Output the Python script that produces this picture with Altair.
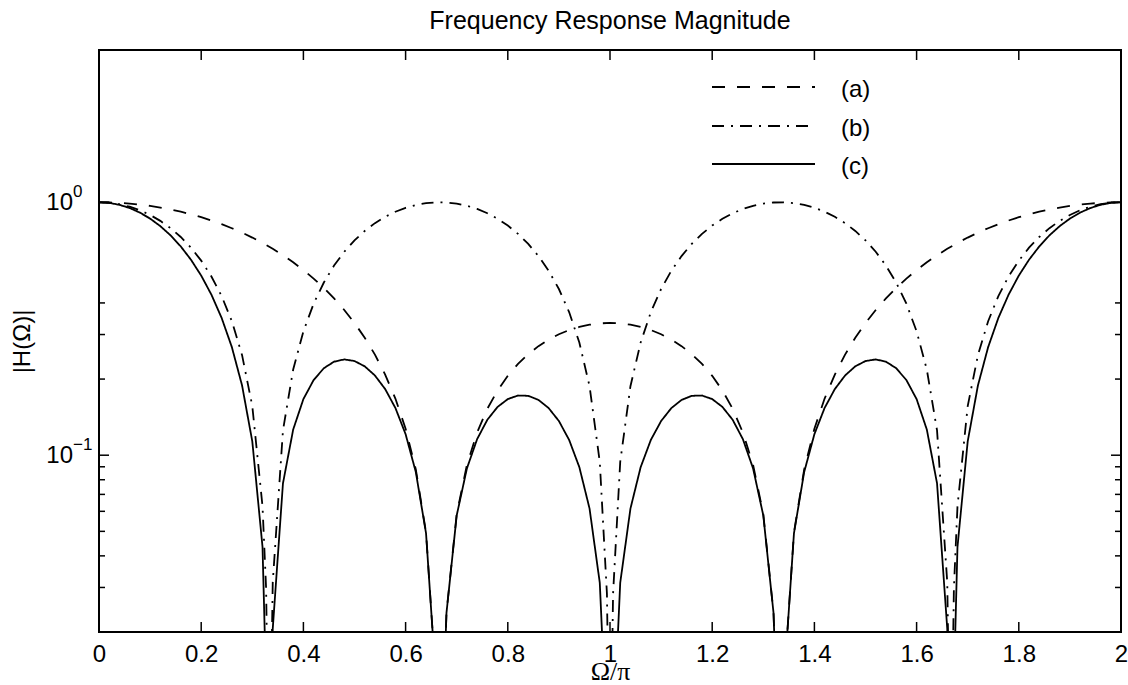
import altair as alt
import pandas as pd

# ---------------- data ----------------
t_grid = [0.00, 0.02, 0.04, 0.06, 0.08, 0.10, 0.12, 0.14, 0.16, 0.18,
          0.20, 0.22, 0.24, 0.26, 0.28, 0.30, 0.32, 0.34, 0.36, 0.38,
          0.40, 0.42, 0.44, 0.46, 0.48, 0.50, 0.52, 0.54, 0.56, 0.58,
          0.60, 0.62, 0.64, 0.66, 0.68, 0.70, 0.72, 0.74, 0.76, 0.78,
          0.80, 0.82, 0.84, 0.86, 0.88, 0.90, 0.92, 0.94, 0.96, 0.98,
          1.00,
          1.02, 1.04, 1.06, 1.08, 1.10, 1.12, 1.14, 1.16, 1.18, 1.20,
          1.22, 1.24, 1.26, 1.28, 1.30, 1.32, 1.34, 1.36, 1.38, 1.40,
          1.42, 1.44, 1.46, 1.48, 1.50, 1.52, 1.54, 1.56, 1.58, 1.60,
          1.62, 1.64, 1.66, 1.68, 1.70, 1.72, 1.74, 1.76, 1.78, 1.80,
          1.82, 1.84, 1.86, 1.88, 1.90, 1.92, 1.94, 1.96, 1.98, 2.00]

a_vals = [1.0000, 0.9987, 0.9947, 0.9882, 0.9791, 0.9674, 0.9532, 0.9366, 0.9175, 0.8962,
          0.8727, 0.8470, 0.8193, 0.7897, 0.7583, 0.7252, 0.6906, 0.6545, 0.6172, 0.5788,
          0.5394, 0.4991, 0.4583, 0.4169, 0.3752, 0.3333, 0.2915, 0.2498, 0.2084, 0.1675,
          0.1273, 0.0879, 0.0495, 0.0122, 0.0239, 0.0585, 0.0916, 0.1230, 0.1527, 0.1803,
          0.2060, 0.2296, 0.2509, 0.2699, 0.2865, 0.3007, 0.3124, 0.3215, 0.3281, 0.3320,
          0.3333,
          0.3320, 0.3281, 0.3215, 0.3124, 0.3007, 0.2865, 0.2699, 0.2509, 0.2296, 0.2060,
          0.1803, 0.1527, 0.1230, 0.0916, 0.0585, 0.0239, 0.0122, 0.0495, 0.0879, 0.1273,
          0.1675, 0.2084, 0.2498, 0.2915, 0.3333, 0.3752, 0.4169, 0.4583, 0.4991, 0.5394,
          0.5788, 0.6172, 0.6545, 0.6906, 0.7252, 0.7583, 0.7897, 0.8193, 0.8470, 0.8727,
          0.8962, 0.9175, 0.9366, 0.9532, 0.9674, 0.9791, 0.9882, 0.9947, 0.9987, 1.0000]

b_vals = [1.0000, 0.9956, 0.9823, 0.9603, 0.9298, 0.8910, 0.8443, 0.7902, 0.7290, 0.6613,
          0.5878, 0.5090, 0.4258, 0.3387, 0.2487, 0.1564, 0.0628, 0.0314, 0.1253, 0.2181,
          0.3090, 0.3972, 0.4818, 0.5621, 0.6374, 0.7071, 0.7705, 0.8271, 0.8763, 0.9178,
          0.9511, 0.9759, 0.9921, 0.9995, 0.9980, 0.9877, 0.9686, 0.9409, 0.9048, 0.8607,
          0.8090, 0.7501, 0.6846, 0.6128, 0.5358, 0.4540, 0.3681, 0.2790, 0.1874, 0.0941,
          0.0040,
          0.0941, 0.1874, 0.2790, 0.3681, 0.4540, 0.5358, 0.6128, 0.6846, 0.7501, 0.8090,
          0.8607, 0.9048, 0.9409, 0.9686, 0.9877, 0.9980, 0.9995, 0.9921, 0.9759, 0.9511,
          0.9178, 0.8763, 0.8271, 0.7705, 0.7071, 0.6374, 0.5621, 0.4818, 0.3972, 0.3090,
          0.2181, 0.1253, 0.0314, 0.0628, 0.1564, 0.2487, 0.3387, 0.4258, 0.5090, 0.5878,
          0.6613, 0.7290, 0.7902, 0.8443, 0.8910, 0.9298, 0.9603, 0.9823, 0.9956, 1.0000]

c_vals = [1.0000, 0.9943, 0.9771, 0.9490, 0.9103, 0.8619, 0.8048, 0.7400, 0.6689, 0.5927,
          0.5130, 0.4312, 0.3489, 0.2675, 0.1886, 0.1134, 0.0434, 0.0206, 0.0774, 0.1263,
          0.1667, 0.1982, 0.2208, 0.2343, 0.2392, 0.2357, 0.2246, 0.2066, 0.1826, 0.1538,
          0.1211, 0.0858, 0.0491, 0.0122, 0.0238, 0.0578, 0.0887, 0.1158, 0.1381, 0.1552,
          0.1667, 0.1722, 0.1717, 0.1654, 0.1535, 0.1365, 0.1150, 0.0897, 0.0615, 0.0313,
          0.0040,
          0.0313, 0.0615, 0.0897, 0.1150, 0.1365, 0.1535, 0.1654, 0.1717, 0.1722, 0.1667,
          0.1552, 0.1381, 0.1158, 0.0887, 0.0578, 0.0238, 0.0122, 0.0491, 0.0858, 0.1211,
          0.1538, 0.1826, 0.2066, 0.2246, 0.2357, 0.2392, 0.2343, 0.2208, 0.1982, 0.1667,
          0.1263, 0.0774, 0.0206, 0.0434, 0.1134, 0.1886, 0.2675, 0.3489, 0.4312, 0.5130,
          0.5927, 0.6689, 0.7400, 0.8048, 0.8619, 0.9103, 0.9490, 0.9771, 0.9943, 1.0000]

# points at the notches (the curves drop below the bottom of the plot there)
a_dip_t = [0.6667, 1.3333]
a_dip_v = [0.004, 0.004]
b_dip_t = [0.327, 0.3333, 0.994, 1.006, 1.6667, 1.673]
b_dip_v = [0.0298, 0.004, 0.0283, 0.0283, 0.004, 0.0298]
c_dip_t = [0.3333, 0.6667, 1.3333, 1.6667]
c_dip_v = [0.004, 0.004, 0.004, 0.004]

series_names = ["(a)", "(b)", "(c)"]
x_ticks = [0.0, 0.2, 0.4, 0.6, 0.8, 1.0, 1.2, 1.4, 1.6, 1.8, 2.0]
y_major = [0.1, 1.0]
y_minor = [0.02, 0.03, 0.04, 0.05, 0.06, 0.07, 0.08, 0.09, 0.2, 0.3, 0.4]
y_lab_vals = [1.0, 0.1]
y_lab_base = ["10", "10"]
y_lab_exp = ["0", "\u22121"]

# ---------------- build table ----------------
rows = []
for name, vals, dt, dv in [("(a)", a_vals, a_dip_t, a_dip_v),
                           ("(b)", b_vals, b_dip_t, b_dip_v),
                           ("(c)", c_vals, c_dip_t, c_dip_v)]:
    for t, v in zip(t_grid, vals):
        rows.append({"series": name, "t": t, "v": v})
    for t, v in zip(dt, dv):
        rows.append({"series": name, "t": t, "v": v})
df = pd.DataFrame(rows).sort_values(["series", "t"]).reset_index(drop=True)

W, H = 1022, 582
SANS = "Liberation Sans"
SERIF = "Liberation Serif"
dashes = {"(a)": [13, 12], "(b)": [12, 7, 2, 7], "(c)": [1, 0]}

xscale = alt.Scale(domain=[0, 2], nice=False, zero=False)
yscale = alt.Scale(type="log", domain=[0.02, 4], nice=False)

xaxis = alt.Axis(values=x_ticks, format="~g", labelFont=SANS, labelFontSize=24,
                 labelColor="black", labelPadding=10, ticks=False, tickSize=0,
                 domain=False, grid=False, labelFlush=False, labelOverlap=False,
                 title="\u03a9/\u03c0", titleFont=SERIF, titleFontSize=26,
                 titleFontWeight="normal", titleColor="black", titleX=511, titleY=47,
                 titleAlign="center", titleBaseline="alphabetic")
yaxis = alt.Axis(labels=False, ticks=False, domain=False, grid=False,
                 title="|H(\u03a9)|", titleFont=SANS, titleFontSize=24,
                 titleFontWeight="normal", titleColor="black", titleX=-77, titleY=291,
                 titleAlign="center", titleBaseline="middle", titleAngle=270)

lines = alt.Chart(df).mark_line(clip=True, color="black", strokeWidth=1.8).encode(
    x=alt.X("t:Q", scale=xscale, axis=xaxis),
    y=alt.Y("v:Q", scale=yscale, axis=yaxis),
    strokeDash=alt.StrokeDash("series:N",
                              scale=alt.Scale(domain=series_names,
                                              range=[dashes[s] for s in series_names]),
                              legend=None),
    detail="series:N",
)

xt = pd.DataFrame({"t": x_ticks})
ymj = pd.DataFrame({"v": y_major})
ymn = pd.DataFrame({"v": y_minor})

tick_style = dict(color="black", strokeWidth=1.5)
bot_ticks = alt.Chart(xt).mark_rule(**tick_style).encode(
    x="t:Q", y=alt.value(H), y2=alt.value(H - 10))
top_ticks = alt.Chart(xt).mark_rule(**tick_style).encode(
    x="t:Q", y=alt.value(0), y2=alt.value(10))
l_major = alt.Chart(ymj).mark_rule(**tick_style).encode(
    y="v:Q", x=alt.value(0), x2=alt.value(10))
r_major = alt.Chart(ymj).mark_rule(**tick_style).encode(
    y="v:Q", x=alt.value(W), x2=alt.value(W - 10))
l_minor = alt.Chart(ymn).mark_rule(**tick_style).encode(
    y="v:Q", x=alt.value(0), x2=alt.value(6))
r_minor = alt.Chart(ymn).mark_rule(**tick_style).encode(
    y="v:Q", x=alt.value(W), x2=alt.value(W - 6))

ylab = pd.DataFrame({"v": y_lab_vals, "base": y_lab_base, "exp": y_lab_exp})
ylab_base = alt.Chart(ylab).mark_text(align="right", baseline="middle", font=SANS,
                                      fontSize=24, color="black", dy=1).encode(
    y="v:Q", x=alt.value(-26), text="base:N")
ylab_exp = alt.Chart(ylab).mark_text(align="left", baseline="middle", font=SANS,
                                     fontSize=17, color="black", dy=-10).encode(
    y="v:Q", x=alt.value(-26), text="exp:N")

legend_layers = []
legend_rows_y = [37, 76, 114]
for name, ly in zip(series_names, legend_rows_y):
    ldf = pd.DataFrame({"label": [name]})
    legend_layers.append(
        alt.Chart(ldf).mark_rule(color="black", strokeWidth=1.8,
                                 strokeDash=dashes[name]).encode(
            x=alt.value(613), x2=alt.value(716), y=alt.value(ly)))
    legend_layers.append(
        alt.Chart(ldf).mark_text(align="left", baseline="middle", font=SANS,
                                 fontSize=24, color="black", dy=3).encode(
            x=alt.value(742), y=alt.value(ly), text="label:N"))

chart = alt.layer(lines, bot_ticks, top_ticks, l_major, r_major, l_minor, r_minor,
                  ylab_base, ylab_exp, *legend_layers).properties(
    width=W, height=H,
    title=alt.TitleParams(text="Frequency Response Magnitude", font=SANS, fontSize=25,
                          fontWeight="normal", color="black", anchor="middle", offset=15),
    autosize=alt.AutoSizeParams(type="none"),
    padding={"left": 99, "top": 50, "right": 7, "bottom": 53},
    background="white",
).configure_view(stroke="black", strokeWidth=2)

chart.save("out.html", embed_options={"renderer": "svg", "actions": False})
